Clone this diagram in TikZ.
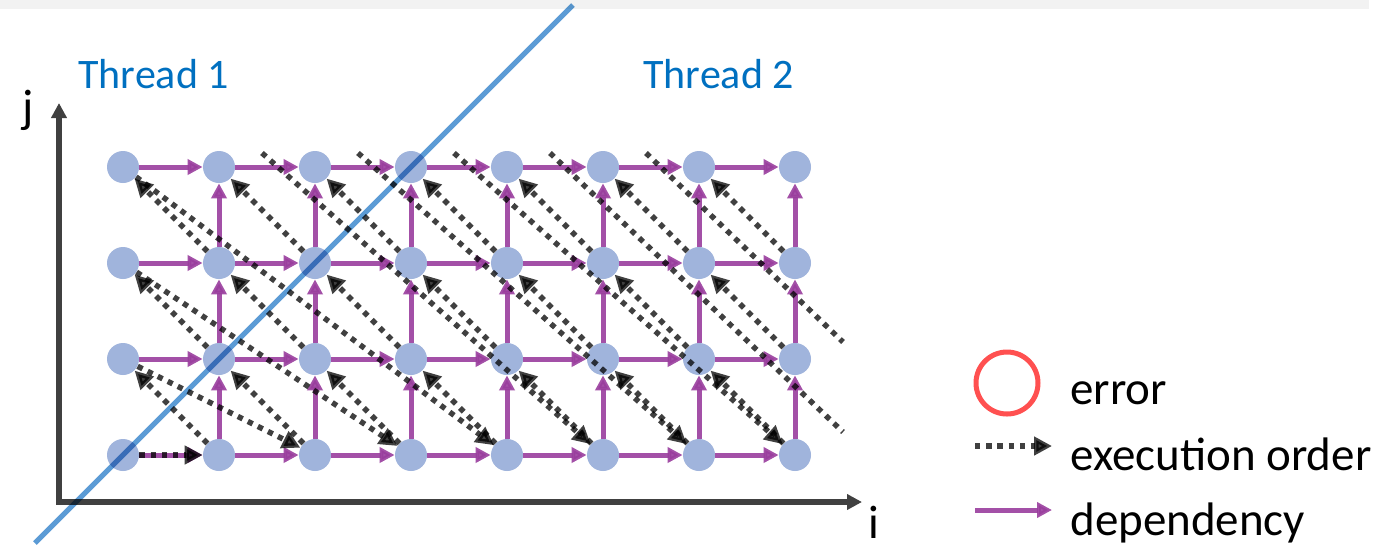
\documentclass[tikz,border=0pt]{standalone}
\usepackage{fontspec}
\setmainfont{Carlito}
\usetikzlibrary{arrows.meta,positioning,calc}

\definecolor{cellblue}{HTML}{A0B4DC}
\definecolor{deppurple}{HTML}{9A3E9E}
\definecolor{execgray}{HTML}{404040}
\definecolor{splitblue}{HTML}{5B9BD5}
\definecolor{threadblue}{HTML}{0070C0}
\definecolor{errred}{HTML}{FF5050}
\definecolor{bandgray}{HTML}{F2F2F2}

\begin{document}
\begin{tikzpicture}[x=0.5pt,y=-0.5pt,
		lab/.style={font=\fontsize{23.5}{28}\selectfont,inner sep=0pt,anchor=base west},
		thread/.style={lab,font=\fontsize{21}{25}\selectfont,text=threadblue},
		cell/.style={circle,fill=cellblue,minimum size=16pt,inner sep=0pt},
		dep/.style={draw=deppurple,line width=2.5pt,opacity=0.9,-{Triangle[length=7.5pt,width=7.5pt]}},
		exec/.style={draw=execgray,line width=2.7pt,dash pattern=on 2.7pt off 2.9pt,blend mode=multiply,-{Triangle[length=9pt,width=9pt]}},
		axis/.style={draw=execgray,line width=3pt,{Triangle[length=7.5pt,width=7.5pt]}-{Triangle[length=7.5pt,width=7.5pt]}},
		split/.style={draw=splitblue,line width=2.5pt,blend mode=multiply}
		]
		
		% --- page and top band
		\fill[white] (0,0) rectangle (1389,548);
		\useasboundingbox (0,0) rectangle (1389,548);
		\fill[bandgray] (0,0) rectangle (1369,9);
		
		% --- axes
		\coordinate (origin) at (59,502);
		\coordinate (jtop) at (59,103);
		\coordinate (iend) at (862,502);
		\draw[axis] (jtop) -- (origin) -- (iend);
		\node[lab] (jlab) at (22,122) {j};
		\node[lab] (ilab) at (868,538) {i};
		
		% --- iteration cells
		\foreach \i in {0,...,7}
		\foreach \j in {0,...,3}
		\node[cell] (c-\i-\j) at (123+96*\i,455-96*\j) {};
		
		% --- dependencies
		\foreach \i in {0,...,6}{
			\pgfmathtruncatemacro\k{\i+1}
			\foreach \j in {0,...,3}
			\draw[dep] (c-\i-\j) -- (c-\k-\j);
		}
		\foreach \i in {1,...,7}{
			\foreach \j in {0,...,2}{
				\pgfmathtruncatemacro\k{\j+1}
				\draw[dep] (c-\i-\j) -- (c-\i-\k);
			}
		}
		
		% --- execution order along the anti-diagonals
		\draw[exec] (c-0-0) -- (c-1-0);
		\foreach \i in {0,...,6}{
			\pgfmathtruncatemacro\k{\i+1}
			\foreach \j in {1,...,3}{
				\pgfmathtruncatemacro\m{\j-1}
				\draw[exec] (c-\k-\m) -- (c-\i-\j);
			}
		}
		\foreach \j in {1,...,3}{
			\pgfmathtruncatemacro\k{\j+1}
			\draw[exec] (c-0-\j) -- (c-\k-0);
		}
		\foreach \i in {1,...,3}{
			\pgfmathtruncatemacro\k{\i+4}
			\draw[exec] ([shift={(43,-14)}]c-\i-3.center) -- (c-\k-0);
		}
		\coordinate (off-4) at (843,432);
		\coordinate (off-5) at (843,342);
		\foreach \i in {4,5}
		\draw[exec,-] ([shift={(43,-14)}]c-\i-3.center) -- (off-\i);
		
		% --- thread split
		\coordinate (split-a) at (35,543);
		\coordinate (split-b) at (573,5);
		\draw[split] (split-a) -- (split-b);
		\node[thread] (thr1) at (78,88) {Thread 1};
		\node[thread] (thr2) at (643,88) {Thread 2};
		
		% --- legend
		\node[circle,draw=errred,line width=2.5pt,minimum size=31pt,inner sep=0pt] (err) at (1007,383) {};
		\node[lab] (err-t) at (1070,404) {error};
		\coordinate (ex-a) at (975,446);
		\coordinate (ex-b) at (1052,446);
		\draw[exec] (ex-a) -- (ex-b);
		\node[lab] (ex-t) at (1070,470) {execution order};
		\coordinate (dep-a) at (975,510);
		\coordinate (dep-b) at (1052,510);
		\draw[dep] (dep-a) -- (dep-b);
		\node[lab] (dep-t) at (1070,535) {dependency};
		
	\end{tikzpicture}
\end{document}
